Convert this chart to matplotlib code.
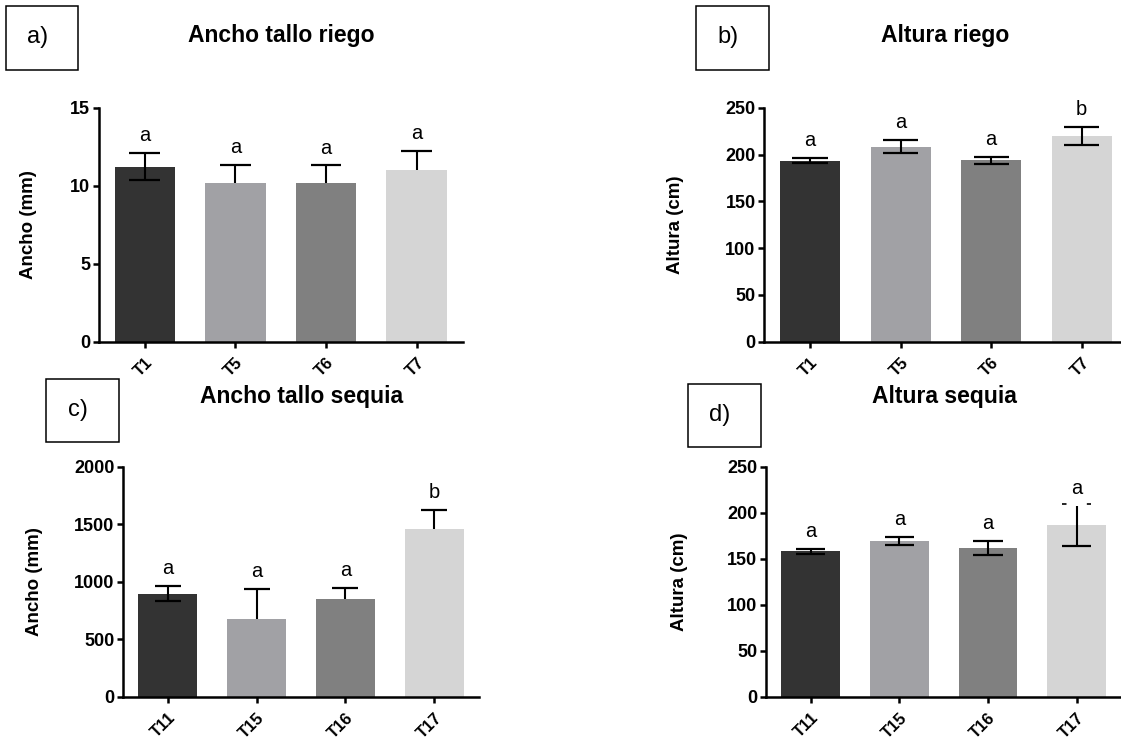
import matplotlib
matplotlib.use("Agg")
import matplotlib.pyplot as plt
from matplotlib.patches import Rectangle
import numpy as np

plt.rcParams['font.family'] = ['Liberation Sans', 'DejaVu Sans']

# ---------------- data ----------------
cats_riego = ["T1", "T5", "T6", "T7"]
cats_sequia = ["T11", "T15", "T16", "T17"]

ancho_riego = [11.2, 10.15, 10.2, 11.0]
ancho_riego_err_up = [0.88, 1.2, 1.1, 1.22]
ancho_riego_err_lo = [0.85, 0.0, 0.0, 0.0]
ancho_riego_letters = ["a", "a", "a", "a"]

altura_riego = [193.4, 208.3, 193.8, 219.8]
altura_riego_err_up = [3.2, 6.9, 3.8, 9.9]
altura_riego_err_lo = [2.8, 6.7, 3.6, 9.7]
altura_riego_letters = ["a", "a", "a", "b"]

ancho_sequia = [896, 676, 847, 1455]
ancho_sequia_err_up = [69, 260, 98, 171]
ancho_sequia_err_lo = [67, 0, 0, 0]
ancho_sequia_letters = ["a", "a", "a", "b"]

altura_sequia = [158.0, 168.9, 161.3, 186.3]
altura_sequia_err_up = [2.9, 4.7, 8.3, 21.0]
altura_sequia_err_lo = [2.9, 4.0, 7.6, 22.5]
altura_sequia_letters = ["a", "a", "a", "a"]

bar_colors = ["#333333", "#a1a1a5", "#808080", "#d5d5d5"]

W, H = 1121, 742
fig = plt.figure(figsize=(W / 100, H / 100), dpi=100)


def px_axes(left, bottom, width, height):
    return fig.add_axes([left / W, (H - bottom) / H, width / W, height / H])


def panel(ax, cats, vals, up, lo, letters, yticks, ylabel, capw, dashed_top=None):
    x = np.arange(len(cats))
    ax.bar(x, vals, width=0.665, color=bar_colors, edgecolor="none", zorder=1)
    for i in range(len(cats)):
        top = vals[i] + up[i]
        bot = vals[i] - lo[i]
        ax.vlines(x[i], bot, top, color="black", lw=1.5, zorder=3)
        if dashed_top is not None and i == dashed_top:
            ax.hlines(top + (yticks[-1] * 0.008), x[i] - capw / 2, x[i] + capw / 2,
                      color="black", lw=1.2, linestyles=(0, (2.7, 12.2)), zorder=3)
        else:
            ax.hlines(top, x[i] - capw / 2, x[i] + capw / 2, color="black", lw=1.6, zorder=3)
        if lo[i] > 0:
            ax.hlines(bot, x[i] - capw / 2, x[i] + capw / 2, color="black", lw=1.6, zorder=3)
        ax.annotate(letters[i], (x[i], top), xytext=(0, 12.5), textcoords="offset points",
                    ha="center", va="center", fontsize=14.5, zorder=4)
    ax.set_xlim(-0.51, 3.51)
    ax.set_ylim(0, yticks[-1])
    ax.set_yticks(yticks)
    ax.set_xticks(x)
    ax.set_xticklabels(cats, rotation=45, ha="right", va="top", rotation_mode="anchor",
                       fontweight="bold", fontsize=12)
    for lab in ax.get_yticklabels():
        lab.set_fontweight("bold")
        lab.set_fontsize(13)
    for s in ["top", "right"]:
        ax.spines[s].set_visible(False)
    for s in ["left", "bottom"]:
        ax.spines[s].set_linewidth(1.8)
    ax.tick_params(axis="both", width=1.8, length=4.5, direction="out", pad=1.5)
    ax.tick_params(axis="x", pad=5)
    ax.set_ylabel(ylabel, fontsize=13.5, fontweight="bold")


ax_a = px_axes(98.7, 341.7, 364, 234)
panel(ax_a, cats_riego, ancho_riego, ancho_riego_err_up, ancho_riego_err_lo,
      ancho_riego_letters, [0, 5, 10, 15], "Ancho (mm)", 0.34)

ax_b = px_axes(763.9, 341.7, 364, 234)
panel(ax_b, cats_riego, altura_riego, altura_riego_err_up, altura_riego_err_lo,
      altura_riego_letters, [0, 50, 100, 150, 200, 250], "Altura (cm)", 0.39)

ax_c = px_axes(122.7, 696.7, 356.6, 230)
panel(ax_c, cats_sequia, ancho_sequia, ancho_sequia_err_up, ancho_sequia_err_lo,
      ancho_sequia_letters, [0, 500, 1000, 1500, 2000], "Ancho (mm)", 0.29)

ax_d = px_axes(765.7, 696.7, 356, 230)
panel(ax_d, cats_sequia, altura_sequia, altura_sequia_err_up, altura_sequia_err_lo,
      altura_sequia_letters, [0, 50, 100, 150, 200, 250], "Altura (cm)", 0.33, dashed_top=3)

# y-label positions (pixel-based)
for ax, (lx, ly) in [(ax_a, (37, 225)), (ax_b, (684, 225)), (ax_c, (43.3, 581.7)), (ax_d, (688, 581.7))]:
    ax.yaxis.set_label_coords(lx / W, (H - ly) / H, transform=fig.transFigure)

# titles
titles = ["Ancho tallo riego", "Altura riego", "Ancho tallo sequia", "Altura sequia"]
title_pos = [(281.7, 35.5), (945.3, 35.5), (301.7, 396.5), (944.6, 396.5)]
for t, (tx, ty) in zip(titles, title_pos):
    fig.text(tx / W, (H - ty) / H, t, ha="center", va="center", fontsize=16.5, fontweight="bold")

# panel letter boxes
panel_labels = ["a)", "b)", "c)", "d)"]
boxes = [(5.7, 6.3, 78.3, 70), (696.3, 6.3, 769.3, 70), (46, 379.3, 119, 442.3), (688.1, 384, 760.7, 447.3)]
for lab, (x0, y0, x1, y1) in zip(panel_labels, boxes):
    fig.add_artist(Rectangle((x0 / W, (H - y1) / H), (x1 - x0) / W, (y1 - y0) / H,
                             transform=fig.transFigure, fill=False, edgecolor="black", lw=1.1))
    fig.text((x0 + x1) / 2 / W - 0.004, (H - (y0 + y1) / 2 + 1) / H, lab, ha="center", va="center",
             fontsize=17)

fig.savefig("out.png", dpi=100)
